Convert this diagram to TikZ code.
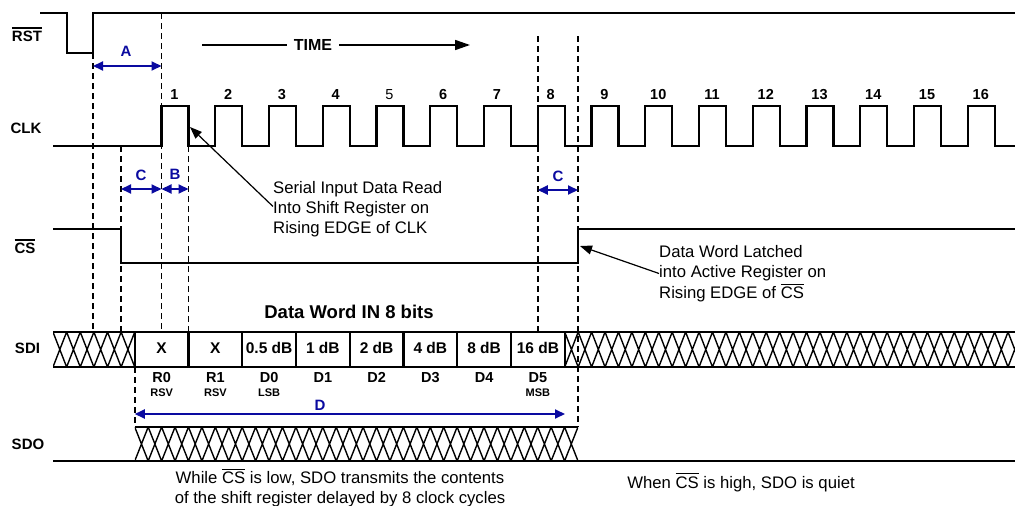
\documentclass[tikz,border=0pt]{standalone}
\usepackage{fontspec}
\setmainfont{Liberation Sans}
\usetikzlibrary{arrows.meta}
\definecolor{dblue}{RGB}{10,10,160}
\newsavebox\ovlbox
\newcommand\ovl[2][1pt]{\leavevmode\sbox\ovlbox{#2}\smash{\rlap{\raisebox{\dimexpr\ht\ovlbox+2pt\relax}{\rule{\wd\ovlbox}{#1}}}}\usebox\ovlbox}
\begin{document}
\begin{tikzpicture}[x=1pt,y=-1pt,
  sig/.style={line width=2.2pt, line join=miter},
  guide/.style={line width=1.6pt, dash pattern=on 6pt off 4pt},
  hatchl/.style={line width=1.4pt},
  dim/.style={dblue, line width=2pt, {Triangle[length=10pt,width=9pt]}-{Triangle[length=10pt,width=9pt]}},
  dimlab/.style={text=dblue, font=\fontsize{15}{18}\selectfont\bfseries, inner sep=0},
  lab/.style={font=\fontsize{15}{18}\selectfont\bfseries, inner sep=0},
  num/.style={font=\fontsize{14.5}{17}\selectfont\bfseries, inner sep=0, anchor=base},
  numreg/.style={font=\fontsize{14.5}{17}\selectfont, inner sep=0, anchor=base},
  boxt/.style={font=\fontsize{15.5}{18}\selectfont\bfseries, inner sep=0, anchor=base},
  bitl/.style={font=\fontsize{14.5}{17}\selectfont\bfseries, inner sep=0, anchor=base},
  bits/.style={font=\fontsize{11}{13}\selectfont\bfseries, inner sep=0, anchor=base},
  titl/.style={font=\fontsize{18.5}{22}\selectfont\bfseries, inner sep=0, anchor=base},
  ann/.style={font=\fontsize{16.7}{20}\selectfont, inner sep=0, align=left},
  annb/.style={font=\fontsize{16.7}{20.5}\selectfont, inner sep=0, align=left},
  timel/.style={font=\fontsize{16}{19}\selectfont\bfseries, inner xsep=7pt, inner ysep=0},
  tline/.style={line width=1.6pt},
  pointer/.style={line width=1.2pt, -{Triangle[length=12pt,width=9pt]}}
]
\useasboundingbox (0,0) rectangle (1015,506);
\fill[white] (0,0) rectangle (1015,506);

% guide lines
\draw[guide] (93,53) -- (93,332);
\draw[guide] (161.5,13) -- (161.5,332);
\draw[guide] (121,146) -- (121,332);
\draw[guide] (188.5,146) -- (188.5,332);
\draw[guide] (537.75,36) -- (537.75,332);
\draw[guide] (578,36) -- (578,427);
\draw[guide] (134.75,367) -- (134.75,427);

% RST
\draw[sig] (40,13) -- (67,13) -- (67,53) -- (93,53) -- (93,13) -- (1015,13);
% CLK
\draw[sig] (53,146) foreach \k in {0,...,15} { -- ({161.5+53.75*\k},146) -- ++(0,-40) -- ++(27,0) -- ++(0,40) } -- (1015,146);
% CS
\draw[sig] (53,229) -- (121,229) -- (121,263) -- (578,263) -- (578,229) -- (1015,229);

% SDI hatching
\begin{scope}
\clip (53,332) rectangle (134.75,367);
\draw[hatchl] foreach \i in {0,...,5} {({53+13.625*\i},332) -- ({53+13.625*(\i+1)},367) ({53+13.625*\i},367) -- ({53+13.625*(\i+1)},332)};
\end{scope}
\begin{scope}
\clip (564.75,332) rectangle (1015,367);
\draw[hatchl] foreach \i in {0,...,34} {({564.75+13.432*\i},332) -- ({564.75+13.432*(\i+1)},367) ({564.75+13.432*\i},367) -- ({564.75+13.432*(\i+1)},332)};
\end{scope}
\draw[sig] (53,332) -- (1015,332) (53,367) -- (1015,367);
\foreach \k in {0,...,8} \draw[sig] ({134.75+53.75*\k},332) -- ++(0,35);

% SDO
\begin{scope}
\clip (134.75,427) rectangle (578,461);
\draw[hatchl] foreach \i in {0,...,32} {({134.75+13.432*\i},427) -- ({134.75+13.432*(\i+1)},461) ({134.75+13.432*\i},461) -- ({134.75+13.432*(\i+1)},427)};
\end{scope}
\draw[sig] (134.75,427) -- (578,427);
\draw[sig] (53,461) -- (1015,461);

% signal labels
\node[lab] (lrst) at (27,36) {\ovl[1.8pt]{RST}};
\node[lab] (lclk) at (26,128) {CLK};
\node[lab] (lcs) at (25,248) {\ovl[1.8pt]{CS}};
\node[lab] (lsdi) at (27.5,348) {SDI};
\node[lab] (lsdo) at (28,444) {SDO};

% clock numbers
\foreach \k in {1,2,3,4,6,7,8,9,10,11,12,13,14,15,16}
  \node[num] (n\k) at ({161.5+53.75*(\k-1)+13},99) {\k};
\node[numreg] (n5) at ({161.5+53.75*4+13},99) {5};

% data word
\node[titl] (title) at (349,318.5) {Data Word IN 8 bits};
\foreach \t [count=\k from 0] in {X,X,0.5 dB,1 dB,2 dB,4 dB,8 dB,16 dB}
  \node[boxt] (b\k) at ({161.625+53.75*\k},353.5) {\t};
\foreach \t [count=\k from 0] in {R0,R1,D0,D1,D2,D3,D4,D5}
  \node[bitl] (r\k) at ({161.625+53.75*\k},382) {\t};
\node[bits] (s0) at (161.625,396.5) {RSV};
\node[bits] (s1) at (215.375,396.5) {RSV};
\node[bits] (s2) at (269.125,396.5) {LSB};
\node[bits] (s7) at (537.875,396.5) {MSB};

% timing dimensions
\coordinate (a1) at (93,66); \coordinate (a2) at (161.5,66);
\draw[dim] (a1) -- (a2);
\node[dimlab] (lA) at (126,51) {A};
\coordinate (c1) at (121,189); \coordinate (c2) at (161.5,189);
\draw[dim] (c1) -- (c2);
\node[dimlab] (lC) at (141,175) {C};
\coordinate (bb1) at (161.5,189); \coordinate (bb2) at (188.5,189);
\draw[dim] (bb1) -- (bb2);
\node[dimlab] (lB) at (175,174) {B};
\coordinate (cc1) at (537.75,190); \coordinate (cc2) at (578,190);
\draw[dim] (cc1) -- (cc2);
\node[dimlab] (lC2) at (558,176) {C};
\coordinate (d1) at (134.75,414); \coordinate (d2) at (565,414);
\draw[dim] (d1) -- (d2);
\node[dimlab] (lD) at (320,405) {D};

% TIME arrow
\node[timel] (time) at (313,45) {TIME};
\coordinate (tl) at (202,45); \coordinate (tr) at (470,45);
\draw[tline] (tl) -- (time);
\draw[tline, -{Triangle[length=15pt,width=10pt]}] (time) -- (tr);

% annotations
\node[ann, anchor=north west] (serial) at (273,181.5) {Serial Input Data Read\\Into Shift Register on\\Rising EDGE of CLK};
\coordinate (clkedge) at (190,127);
\draw[pointer] ([yshift=3pt]serial.west) -- (clkedge);

\node[annb, anchor=north west] (latch) at (659,245) {Data Word Latched\\into Active Register on\\Rising EDGE of \ovl{CS}};
\coordinate (csedge) at (580,246);
\draw[pointer] (latch.west) -- (csedge);

\node[ann, anchor=north, align=center] (sdolow) at (340,471) {While \ovl{CS} is low, SDO transmits the contents\\of the shift register delayed by 8 clock cycles};
\node[ann, anchor=base] (sdoq) at (741,488) {When \ovl{CS} is high, SDO is quiet};
\end{tikzpicture}
\end{document}
